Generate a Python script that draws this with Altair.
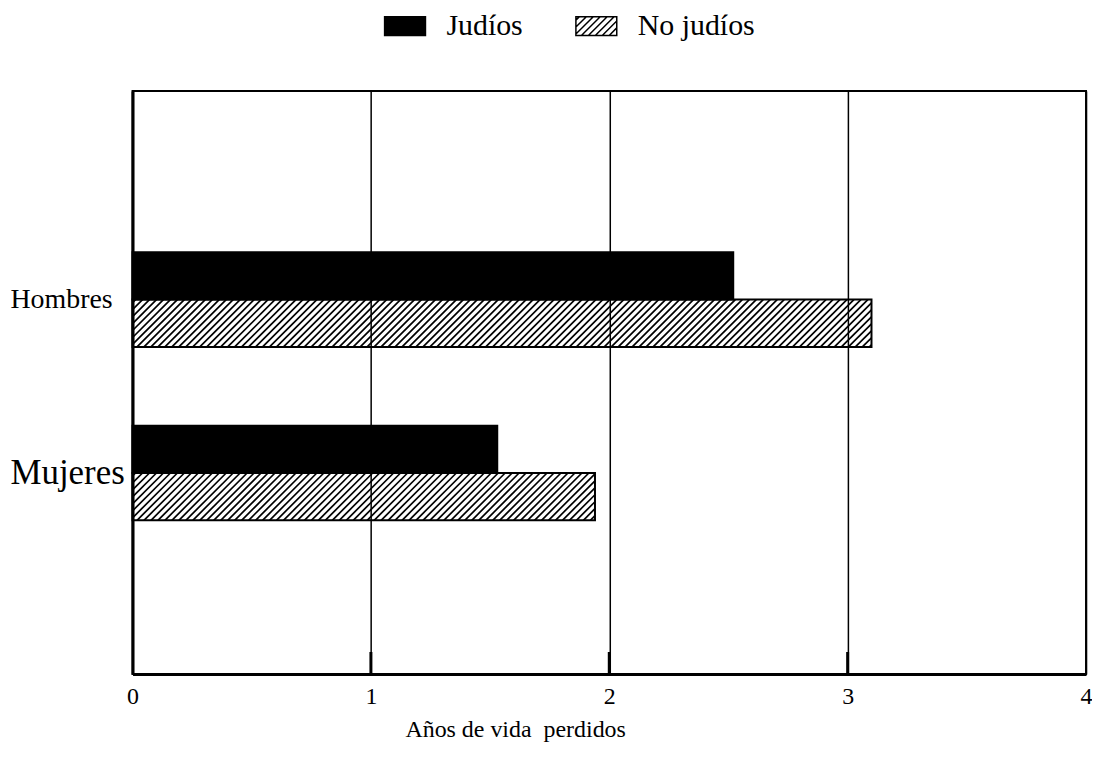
import altair as alt
import pandas as pd

# ---- data ----
categories = ["Hombres", "Mujeres"]
series = ["Judíos", "No judíos"]
judios = [2.52, 1.53]
no_judios = [3.10, 1.94]
x_ticks = [0, 1, 2, 3, 4]
x_title = "Años de vida\u00a0 perdidos"

# ---- layout / style constants ----
W, H = 957, 585
X_DOMAIN = [0, 4]
Y_DOMAIN = [-0.93, 2.432]   # band units: category i occupies [i, i + 2*BAR]
BAR = 0.273
FONT = "Liberation Serif"
HATCH_STEP = 7.0            # px between hatch lines (horizontal)

rows = []
for i, cat in enumerate(categories):
    vals = [judios[i], no_judios[i]]
    for j, s in enumerate(series):
        rows.append(dict(cat=cat, serie=s, value=vals[j], x0=0.0,
                         y0=i + j * BAR, y1=i + (j + 1) * BAR))
bars = pd.DataFrame(rows)

# hatch lines ("/") clipped to each "No judíos" bar, derived from the data through the scale factors
sx = W / (X_DOMAIN[1] - X_DOMAIN[0])
sy = H / (Y_DOMAIN[1] - Y_DOMAIN[0])
hatch = []
for _, r in bars[bars.serie == series[1]].iterrows():
    x0p, x1p = r.x0 * sx, r.value * sx
    ytp, ybp = (r.y0 - Y_DOMAIN[0]) * sy, (r.y1 - Y_DOMAIN[0]) * sy
    c = x0p + ytp + 3.0
    while c < x1p + ybp:
        lo = max(x0p, c - ybp)
        hi = min(x1p, c - ytp)
        if hi > lo:
            hatch.append(dict(xa=lo / sx, ya=Y_DOMAIN[0] + (c - lo) / sy,
                              xb=hi / sx, yb=Y_DOMAIN[0] + (c - hi) / sy))
        c += HATCH_STEP
hatch = pd.DataFrame(hatch)

inner_ticks = pd.DataFrame({"t": x_ticks[1:-1]})

# legend symbols: hidden underneath the first black bar
legend_pts = pd.DataFrame({"serie": series,
                           "lx": [judios[0] / 2] * len(series),
                           "ly": [BAR / 2] * len(series)})

# legend symbol paths (unit coords, scaled by sqrt(size)/2)
h = 0.46
rect_path = f"M-1,{-h}H1V{h}H-1Z"
hp = [rect_path]
c = -1 - h + 0.17
while c < 1 + h:
    lo, hi = max(-1, c - h), min(1, c + h)
    if hi > lo:
        hp.append(f"M{lo:.3f},{c - lo:.3f}L{hi:.3f},{c - hi:.3f}")
    c += 0.34
hatch_path = "".join(hp)

x_scale = alt.Scale(domain=X_DOMAIN, nice=False, zero=False)
y_scale = alt.Scale(domain=Y_DOMAIN, reverse=True, nice=False, zero=False)

x_axis = alt.Axis(values=x_ticks, grid=True, gridColor="black", gridWidth=1.5,
                  gridOpacity=1, domainColor="black", domainWidth=3, ticks=False,
                  labelFont=FONT, labelFontSize=24, labelColor="black", labelPadding=11,
                  labelFlush=False, format="d",
                  title=x_title, titleFont=FONT, titleFontSize=24, titleFontWeight="normal",
                  titleColor="black", titleX=384, titleY=63, titleAlign="center",
                  titleBaseline="alphabetic")

y_axis = alt.Axis(values=[BAR, 1 + BAR], grid=False, ticks=False,
                  domainColor="black", domainWidth=3,
                  labelExpr=f"datum.value < 0.5 ? '{categories[0]}' : '{categories[1]}'",
                  labelFont=FONT, labelColor="black", labelAlign="left",
                  labelBaseline="middle", labelPadding=123,
                  labelFontSize={"condition": {"test": "datum.value < 0.5", "value": 28},
                                 "value": 35},
                  title=None)

legend = alt.Legend(title=None, orient="none", legendX=252, legendY=-87,
                    direction="horizontal", columns=2, columnPadding=50, padding=0,
                    symbolSize=1681, symbolStrokeWidth=1.5, symbolOpacity=1,
                    labelFont=FONT, labelFontSize=30, labelColor="black", labelOffset=20,
                    labelLimit=300)

legend_layer = alt.Chart(legend_pts).mark_point(filled=True, opacity=1, strokeWidth=1.5,
                                                size=1681).encode(
    x=alt.X("lx:Q", scale=x_scale, axis=x_axis),
    y=alt.Y("ly:Q", scale=y_scale, axis=y_axis),
    fill=alt.Fill("serie:N", scale=alt.Scale(domain=series, range=["black", "transparent"]),
                  legend=legend),
    stroke=alt.Stroke("serie:N", scale=alt.Scale(domain=series, range=["black", "black"]),
                      legend=legend),
    shape=alt.Shape("serie:N", scale=alt.Scale(domain=series, range=[rect_path, hatch_path]),
                    legend=legend),
)

bar_layer = alt.Chart(bars).mark_bar(stroke="black", strokeWidth=2).encode(
    x=alt.X("x0:Q", scale=x_scale, axis=x_axis),
    x2="value:Q",
    y=alt.Y("y0:Q", scale=y_scale, axis=y_axis),
    y2="y1:Q",
    color=alt.Color("serie:N", scale=alt.Scale(domain=series, range=["black", "transparent"]),
                    legend=None),
)

hatch_layer = alt.Chart(hatch).mark_rule(color="black", strokeWidth=1.7).encode(
    x="xa:Q", y="ya:Q", x2="xb:Q", y2="yb:Q"
)

tick_layer = alt.Chart(inner_ticks).mark_rule(color="black", strokeWidth=3).encode(
    x="t:Q", y=alt.value(H - 22), y2=alt.value(H)
)

chart = alt.layer(legend_layer, bar_layer, hatch_layer, tick_layer).properties(
    width=W, height=H, background="white",
    autosize=alt.AutoSizeParams(type="none"),
    padding={"left": 125, "top": 82, "right": 6, "bottom": 74},
).configure_view(stroke="black", strokeWidth=2)

chart.save("out.html", embed_options={"renderer": "svg", "actions": False})
